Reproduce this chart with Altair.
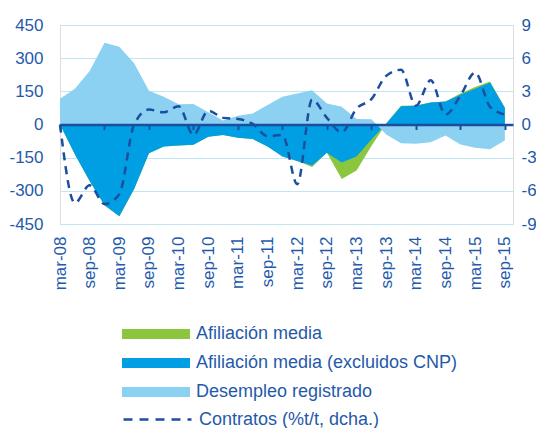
import altair as alt
import pandas as pd

quarters = ["mar-08", "jun-08", "sep-08", "dic-08", "mar-09", "jun-09", "sep-09", "dic-09",
            "mar-10", "jun-10", "sep-10", "dic-10", "mar-11", "jun-11", "sep-11", "dic-11",
            "mar-12", "jun-12", "sep-12", "dic-12", "mar-13", "jun-13", "sep-13", "dic-13",
            "mar-14", "jun-14", "sep-14", "dic-14", "mar-15", "jun-15", "sep-15"]

afiliacion = [0, -135, -255, -365, -415, -292, -130, -100, -95, -92, -55, -48, -60, -66, -100,
              -145, -165, -192, -128, -247, -208, -97, 5, 85, 86, 100, 104, 140, 170, 194, 76]
afiliacion_excl = [0, -135, -255, -365, -415, -292, -130, -100, -95, -92, -55, -48, -60, -66, -100,
                   -145, -165, -185, -128, -172, -145, -68, 5, 82, 85, 100, 104, 134, 162, 190, 76]
desempleo = [117, 162, 242, 370, 352, 277, 153, 125, 92, 93, 55, 18, 40, 50, 88,
             125, 140, 155, 95, 80, 25, 24, -45, -85, -87, -80, -50, -90, -105, -112, -72]
contratos = [0, -7.1, -5.5, -7.2, -6.3, 0, 1.35, 1.1, 1.65, -0.95, 1.25, 0.6, 0.5, 0.05, -1.05,
             -0.95, -5.4, 2.25, 0.6, -0.7, 1.45, 2.3, 4.4, 4.95, 1.7, 4.0, 0.9, 2.6, 4.7, 1.6, 0.9]

area_names = ["Afiliación media", "Afiliación media (excluidos CNP)", "Desempleo registrado"]
line_name = "Contratos (%t/t, dcha.)"
area_colors = ["#8CC63F", "#009FE3", "#8DD1F2"]
line_color = "#1C4E9F"
text_color = "#1F5AAA"
grid_color = "#BFE5F6"

left_ticks = [-450, -300, -150, 0, 150, 300, 450]
right_ticks = [-9, -6, -3, 0, 3, 6, 9]
label_idx = list(range(0, 31, 2))
tick_idx = list(range(0, 31, 3))

rows = []
for name, vals in zip(area_names, [afiliacion, afiliacion_excl, desempleo]):
    for i, v in enumerate(vals):
        rows.append({"idx": i, "value": v, "series": name})
area_df = pd.DataFrame(rows)
line_df = pd.DataFrame({"idx": list(range(len(contratos))), "value": contratos,
                        "series": [line_name] * len(contratos)})

W, H = 453, 199
FONT = "Liberation Sans"
label_arr = "[" + ",".join("'" + q + "'" for q in quarters) + "]"

xscale = alt.Scale(domain=[0, 30.55], nice=False, zero=False)

fill_enc = alt.Fill(
    "series:N",
    scale=alt.Scale(domain=area_names, range=area_colors),
    legend=alt.Legend(
        title=None, orient="none", legendX=86, legendY=299, direction="vertical",
        symbolType="M-3.4,-0.5H3.4V0.5H-3.4Z", symbolSize=400, symbolStrokeWidth=0,
        labelFont=FONT, labelFontSize=18, labelColor=text_color, labelOffset=30,
        labelLimit=0, rowPadding=10, symbolOpacity=1,
    ),
)

x_lab = alt.X(
    "idx:Q", scale=xscale, title=None,
    axis=alt.Axis(values=label_idx, labelExpr=label_arr + "[datum.value]", labelAngle=-90,
                  labelFont=FONT, labelFontSize=17, labelColor=text_color, labelPadding=12,
                  domain=False, ticks=False, tickSize=0, grid=False),
)

y_left = alt.Y(
    "value:Q", stack=None, title=None,
    scale=alt.Scale(domain=[-450, 450], nice=False),
    axis=alt.Axis(values=left_ticks, labelExpr="datum.value + ''", labelFont=FONT,
                  labelFontSize=17, labelColor=text_color, labelPadding=17,
                  domain=False, ticks=False, tickSize=0, grid=True, gridColor=grid_color,
                  gridWidth=1.2),
)

def area_layer(name):
    return alt.Chart(area_df).transform_filter(
        alt.datum.series == name
    ).mark_area(opacity=1, interpolate="linear").encode(x=x_lab, y=y_left, fill=fill_enc)

areas = alt.layer(area_layer(area_names[0]), area_layer(area_names[1]), area_layer(area_names[2]))

line = alt.Chart(line_df).mark_line(strokeDash=[8, 6], strokeWidth=2.5, interpolate="monotone").encode(
    x=alt.X("idx:Q", scale=xscale, title=None,
            axis=alt.Axis(orient="bottom", offset=-H / 2, values=tick_idx, labels=False,
                          domain=True, domainColor=line_color, domainWidth=2.5,
                          ticks=True, tickSize=5, tickWidth=2, tickColor=line_color,
                          grid=False, zindex=1)),
    y=alt.Y("value:Q", title=None, scale=alt.Scale(domain=[-9, 9], nice=False),
            axis=alt.Axis(orient="right", values=right_ticks, labelExpr="datum.value + ''",
                          labelFont=FONT, labelFontSize=17, labelColor=text_color,
                          labelPadding=8, domain=False, ticks=False, tickSize=0, grid=False)),
    stroke=alt.Stroke(
        "series:N", scale=alt.Scale(domain=[line_name], range=[line_color]),
        legend=alt.Legend(
            title=None, orient="none", legendX=86, legendY=383, direction="vertical",
            symbolType="M-3.4,0H3.4", symbolSize=400, symbolStrokeWidth=2.5,
            symbolDash=[9, 7], symbolStrokeColor=line_color, symbolFillColor="transparent",
            labelFont=FONT, labelFontSize=18, labelColor=text_color, labelOffset=30,
            labelLimit=0,
        ),
    ),
)

chart = alt.layer(areas, line).resolve_scale(
    y="independent"
).resolve_axis(
    x="independent", y="independent"
).properties(
    width=W, height=H,
    autosize=alt.AutoSizeParams(type="none"),
    padding={"left": 52, "top": 17, "right": 23, "bottom": 204},
).configure_view(stroke=None).configure(background="white")

chart.save("out.html", embed_options={"renderer": "svg", "actions": False})
